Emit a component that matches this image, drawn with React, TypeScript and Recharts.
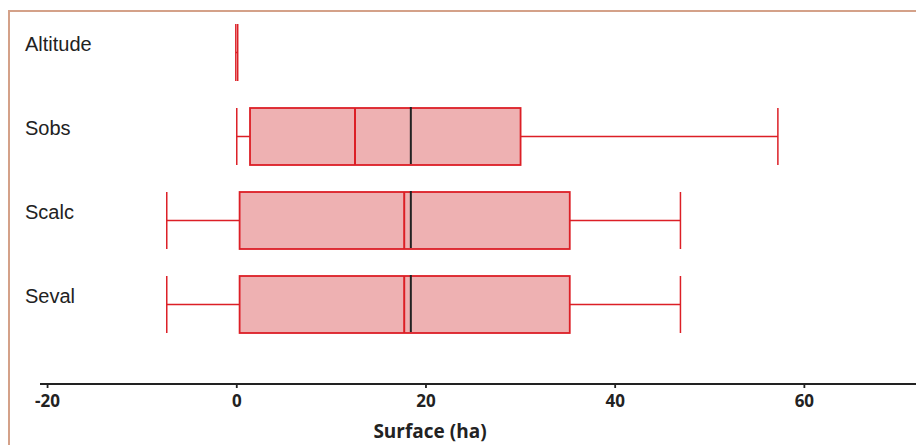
import { ComposedChart, Bar, XAxis, YAxis, Label } from 'recharts'

const categories = ['Altitude', 'Sobs', 'Scalc', 'Seval']
const lows = [-0.1, 0, -7.4, -7.4]
const q1s = [0.1, 1.4, 0.3, 0.3]
const means: (number | null)[] = [null, 12.5, 17.7, 17.7]
const medians: (number | null)[] = [null, 18.4, 18.4, 18.4]
const q3s = [0.1, 30.0, 35.2, 35.2]
const highs = [0.1, 57.2, 46.9, 46.9]
const xTicks = [-20, 0, 20, 40, 60]

const RED = '#dc1f26'
const FILL = '#eeb1b2'

const data = categories.map((name, i) => ({
  name,
  low: lows[i],
  q1: q1s[i],
  mean: means[i],
  median: medians[i],
  q3: q3s[i],
  high: highs[i],
  range: [lows[i], highs[i]],
}))

// range bar gives pixel x for low and high; interpolate the rest
function BoxShape(props: any) {
  const { x, y, width, height, payload } = props
  const { low, high, q1, q3, mean, median } = payload
  const px = (v: number) => (high === low ? x : x + ((v - low) * width) / (high - low))
  const cy = y + height / 2
  const top = y
  const bottom = y + height
  return (
    <g>
      <line x1={px(low)} x2={px(q1)} y1={cy} y2={cy} stroke={RED} strokeWidth={1.5} />
      <line x1={px(q3)} x2={px(high)} y1={cy} y2={cy} stroke={RED} strokeWidth={1.5} />
      <line x1={px(low)} x2={px(low)} y1={top} y2={bottom} stroke={RED} strokeWidth={1.5} />
      <line x1={px(high)} x2={px(high)} y1={top} y2={bottom} stroke={RED} strokeWidth={1.5} />
      <rect
        x={px(q1)}
        y={top}
        width={Math.max(px(q3) - px(q1), 0)}
        height={height}
        fill={FILL}
        stroke={RED}
        strokeWidth={1.8}
      />
      {mean != null && (
        <line x1={px(mean)} x2={px(mean)} y1={top} y2={bottom} stroke={RED} strokeWidth={2} />
      )}
      {median != null && (
        <line x1={px(median)} x2={px(median)} y1={top - 1} y2={bottom - 1} stroke="#222" strokeWidth={2} />
      )}
    </g>
  )
}

function CategoryTick(props: any) {
  const { y, payload } = props
  return (
    <text
      x={25}
      y={y - 8}
      dy="0.355em"
      textAnchor="start"
      fontFamily="'Liberation Sans', Arial, sans-serif"
      fontSize={20}
      fill="#222"
    >
      {payload.value}
    </text>
  )
}

export default function App() {
  return (
    <div style={{ position: 'absolute', left: 0, top: 0, width: 916, height: 445, overflow: 'hidden', background: '#fff' }}>
      <div
        style={{
          position: 'absolute',
          left: 8,
          top: 10,
          width: 1000,
          height: 1000,
          border: '2px solid #d4a189',
        }}
      />
      <div style={{ position: 'absolute', left: 0, top: 0 }}>
        <ComposedChart
          width={916}
          height={445}
          data={data}
          layout="vertical"
          margin={{ top: 10, right: 0, bottom: 0, left: 0 }}
        >
          <XAxis
            type="number"
            domain={[-20.8, 71.8]}
            ticks={xTicks}
            allowDataOverflow
            height={61}
            stroke="#222"
            strokeWidth={1.8}
            tickSize={4}
            tickMargin={7}
            tick={{ fontFamily: "'Open Sans', sans-serif", fontWeight: 700, fontSize: 17, fill: '#222' }}
          >
            <Label
              value="Surface (ha)"
              position="insideBottom"
              offset={7}
              dx={-48}
              style={{ fontFamily: "'Open Sans', sans-serif", fontWeight: 700, fontSize: 19, fill: '#222' }}
            />
          </XAxis>
          <YAxis
            type="category"
            dataKey="name"
            width={40}
            axisLine={false}
            tickLine={false}
            padding={{ top: 0, bottom: 38 }}
            tick={<CategoryTick />}
          />
          <Bar dataKey="range" barSize={57} shape={<BoxShape />} isAnimationActive={false} />
        </ComposedChart>
      </div>
    </div>
  )
}
